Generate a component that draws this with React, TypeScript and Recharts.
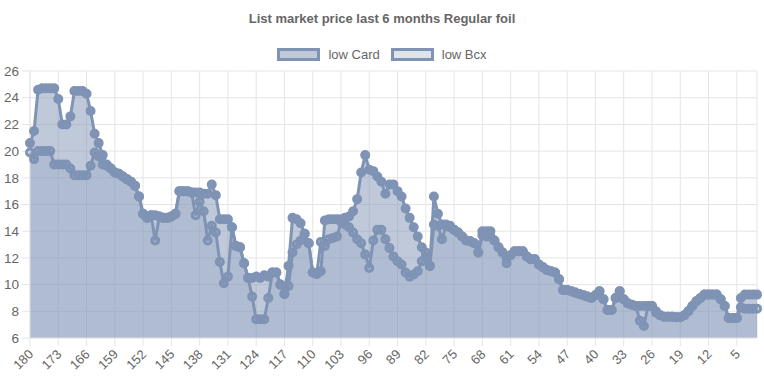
import React from 'react';
import { AreaChart, Area, XAxis, YAxis, CartesianGrid } from 'recharts';

// days remaining, oldest first (x axis runs 180 -> 0)
const days = [
  180, 179, 178, 177, 176, 175, 174, 173, 172, 171, 170, 169, 168, 167, 166, 165, 164, 163, 162, 161,
  160, 159, 158, 157, 156, 155, 154, 153, 152, 151, 150, 149, 148, 147, 146, 145, 144, 143, 142, 141,
  140, 139, 138, 137, 136, 135, 134, 133, 132, 131, 130, 129, 128, 127, 126, 125, 124, 123, 122, 121,
  120, 119, 118, 117, 116, 115, 114, 113, 112, 111, 110, 109, 108, 107, 106, 105, 104, 103, 102, 101,
  100, 99, 98, 97, 96, 95, 94, 93, 92, 91, 90, 89, 88, 87, 86, 85, 84, 83, 82, 81,
  80, 79, 78, 77, 76, 75, 74, 73, 72, 71, 70, 69, 68, 67, 66, 65, 64, 63, 62, 61,
  60, 59, 58, 57, 56, 55, 54, 53, 52, 51, 50, 49, 48, 47, 46, 45, 44, 43, 42, 41,
  40, 39, 38, 37, 36, 35, 34, 33, 32, 31, 30, 29, 28, 27, 26, 25, 24, 23, 22, 21,
  20, 19, 18, 17, 16, 15, 14, 13, 12, 11, 10, 9, 8, 7, 6, 5, 4, 3, 2, 1, 0,
];

const lowCard = [
  20.6, 21.5, 24.6, 24.7, 24.7, 24.7, 24.7, 23.9, 22.0, 22.0,
  22.6, 24.5, 24.5, 24.5, 24.3, 23.0, 21.3, 20.6, 19.7, 19.0,
  18.7, 18.4, 18.3, 18.1, 17.9, 17.7, 17.4, 16.6, 15.3, 15.0,
  15.2, 15.2, 15.1, 15.0, 15.0, 15.1, 15.3, 17.0, 17.0, 17.0,
  16.9, 16.9, 16.9, 16.8, 16.8, 17.5, 16.7, 14.9, 14.9, 14.9,
  14.3, 12.9, 12.8, 11.6, 10.5, 10.5, 10.6, 10.5, 10.7, 10.6,
  10.9, 10.9, 10.0, 9.3, 11.4, 15.0, 14.9, 14.6, 13.8, 13.1,
  10.9, 10.8, 11.0, 14.8, 14.9, 14.9, 14.9, 14.9, 15.0, 15.1,
  15.5, 16.4, 18.4, 19.7, 18.6, 18.5, 18.1, 17.7, 16.8, 17.5,
  17.5, 17.0, 16.6, 15.7, 15.0, 14.3, 13.6, 12.8, 12.1, 11.4,
  16.6, 15.3, 14.5, 14.5, 14.4, 14.1, 13.9, 13.6, 13.3, 13.25,
  13.1, 12.4, 14.0, 14.0, 14.0, 13.3, 12.8, 12.4, 12.0, 12.2,
  12.5, 12.5, 12.5, 12.1, 11.9, 11.9, 11.5, 11.3, 11.1, 11.0,
  10.9, 10.4, 9.6, 9.6, 9.5, 9.4, 9.3, 9.2, 9.1, 9.0,
  9.2, 9.5, 8.9, 8.1, 8.1, 9.0, 9.5, 8.9, 8.6, 8.5,
  8.4, 8.4, 8.4, 8.4, 8.4, 8.0, 7.7, 7.6, 7.6, 7.6,
  7.55, 7.55, 7.7, 8.0, 8.4, 8.75, 9.0, 9.25, 9.25, 9.25,
  9.25, 8.9, 8.4, 7.5, 7.5, 7.5, 9.0, 9.25, 9.25, 9.25,
  9.25,
];

const lowBcx = [
  19.9, 19.4, 20.0, 20.0, 20.0, 20.0, 19.0, 19.0, 19.0, 19.0,
  18.7, 18.2, 18.2, 18.2, 18.2, 18.9, 19.9, 19.6, 19.0, 18.9,
  18.7, 18.4, 18.3, 18.1, 17.9, 17.7, 17.4, 16.6, 15.3, 15.0,
  15.2, 13.3, 15.1, 15.0, 15.0, 15.1, 15.3, 17.0, 17.0, 17.0,
  16.9, 15.2, 16.2, 15.5, 13.3, 14.4, 13.9, 11.7, 10.1, 10.6,
  14.3, 12.9, 12.8, 11.6, 10.5, 9.1, 7.4, 7.4, 7.4, 9.0,
  10.9, 10.9, 10.0, 9.3, 9.9, 12.4, 13.0, 13.3, 13.8, 13.1,
  10.9, 10.8, 13.2, 12.9, 13.4, 13.5, 13.6, 14.7, 14.5, 14.3,
  13.9, 13.4, 13.1, 12.25, 11.25, 13.3, 14.1, 14.1, 13.4, 12.75,
  12.1, 11.75, 11.5, 10.9, 10.6, 10.75, 11.0, 11.75, 12.4, 11.4,
  14.5, 14.4, 13.4, 14.4, 14.3, 14.1, 13.9, 13.6, 13.3, 13.25,
  13.1, 12.4, 13.7, 13.6, 13.6, 13.3, 12.8, 12.4, 11.6, 12.2,
  12.5, 12.5, 12.5, 12.1, 11.9, 11.9, 11.5, 11.3, 11.1, 11.0,
  10.9, 10.4, 9.6, 9.6, 9.5, 9.4, 9.3, 9.2, 9.1, 9.0,
  9.2, 9.5, 8.9, 8.1, 8.1, 9.0, 9.5, 8.9, 8.6, 8.5,
  8.4, 7.3, 6.9, 8.4, 8.4, 7.9, 7.7, 7.6, 7.6, 7.6,
  7.55, 7.55, 7.7, 8.0, 8.4, 8.75, 9.0, 9.25, 9.25, 9.25,
  9.25, 8.9, 8.4, 7.5, 7.5, 7.5, 8.3, 8.2, 8.2, 8.2,
  8.2,
];

const xTicks = [180, 173, 166, 159, 152, 145, 138, 131, 124, 117, 110, 103, 96, 89, 82, 75, 68, 61, 54, 47, 40, 33, 26, 19, 12, 5];
const yTicks = [6, 8, 10, 12, 14, 16, 18, 20, 22, 24, 26];

const LINE = '#7f93b5';
const CARD_FILL = 'rgba(127,147,181,0.5)';
const BCX_FILL = 'rgba(127,147,181,0.25)';
const GRID = '#e5e5e5';
const TEXT = '#666';
const FONT = "'Liberation Sans', Arial, Helvetica, sans-serif";

const data = days.map((day, i) => ({ day, card: lowCard[i], bcx: lowBcx[i] }));

function XTick(props: any) {
  const { x, y, payload } = props;
  const ax = x + 4;
  const ay = y + 7;
  return (
    <text
      x={ax}
      y={ay}
      textAnchor="end"
      fill={TEXT}
      fontSize={13}
      fontFamily={FONT}
      transform={`rotate(-45, ${ax}, ${ay})`}
    >
      {payload.value}
    </text>
  );
}

function LegendItem({ label, fill, first }: { label: string; fill: string; first?: boolean }) {
  return (
    <div style={{ display: 'flex', alignItems: 'center', marginLeft: first ? 0 : 11 }}>
      <div
        style={{
          width: 43,
          height: 13,
          boxSizing: 'border-box',
          border: `3px solid ${LINE}`,
          background: fill,
          marginRight: 8,
        }}
      />
      <span style={{ fontSize: 13, color: TEXT }}>{label}</span>
    </div>
  );
}

export default function App() {
  return (
    <div
      style={{
        position: 'absolute',
        left: 0,
        top: 0,
        width: 764,
        height: 381,
        background: '#fff',
        fontFamily: FONT,
      }}
    >
      <div
        style={{
          position: 'absolute',
          top: 11,
          left: 0,
          width: 764,
          textAlign: 'center',
          fontWeight: 'bold',
          fontSize: 13,
          color: TEXT,
        }}
      >
        List market price last 6 months Regular foil
      </div>
      <div
        style={{
          position: 'absolute',
          top: 47,
          left: 0,
          width: 764,
          display: 'flex',
          justifyContent: 'center',
        }}
      >
        <LegendItem label="low Card" fill={CARD_FILL} first />
        <LegendItem label="low Bcx" fill={BCX_FILL} />
      </div>
      <AreaChart
        width={764}
        height={381}
        data={data}
        margin={{ top: 71, right: 7, left: 0, bottom: 0 }}
      >
        <CartesianGrid stroke={GRID} strokeWidth={1} />
        <XAxis
          dataKey="day"
          ticks={xTicks}
          interval={0}
          height={43}
          tickSize={8}
          tickLine={{ stroke: GRID }}
          axisLine={{ stroke: GRID }}
          tick={<XTick />}
        />
        <YAxis
          domain={[6, 26]}
          ticks={yTicks}
          width={30}
          tickSize={8}
          tickMargin={3}
          tickLine={{ stroke: GRID }}
          axisLine={{ stroke: GRID }}
          tick={{ fill: TEXT, fontSize: 13.5, fontFamily: FONT }}
        />
        <Area
          type="linear"
          dataKey="bcx"
          stroke={LINE}
          strokeWidth={3}
          fill={BCX_FILL}
          fillOpacity={1}
          dot={{ r: 3.5, strokeWidth: 3, stroke: LINE, fill: BCX_FILL, fillOpacity: 1 }}
          activeDot={false}
          isAnimationActive={false}
        />
        <Area
          type="linear"
          dataKey="card"
          stroke={LINE}
          strokeWidth={3}
          fill={CARD_FILL}
          fillOpacity={1}
          dot={{ r: 4, strokeWidth: 2, stroke: LINE, fill: LINE, fillOpacity: 1 }}
          activeDot={false}
          isAnimationActive={false}
        />
      </AreaChart>
    </div>
  );
}
